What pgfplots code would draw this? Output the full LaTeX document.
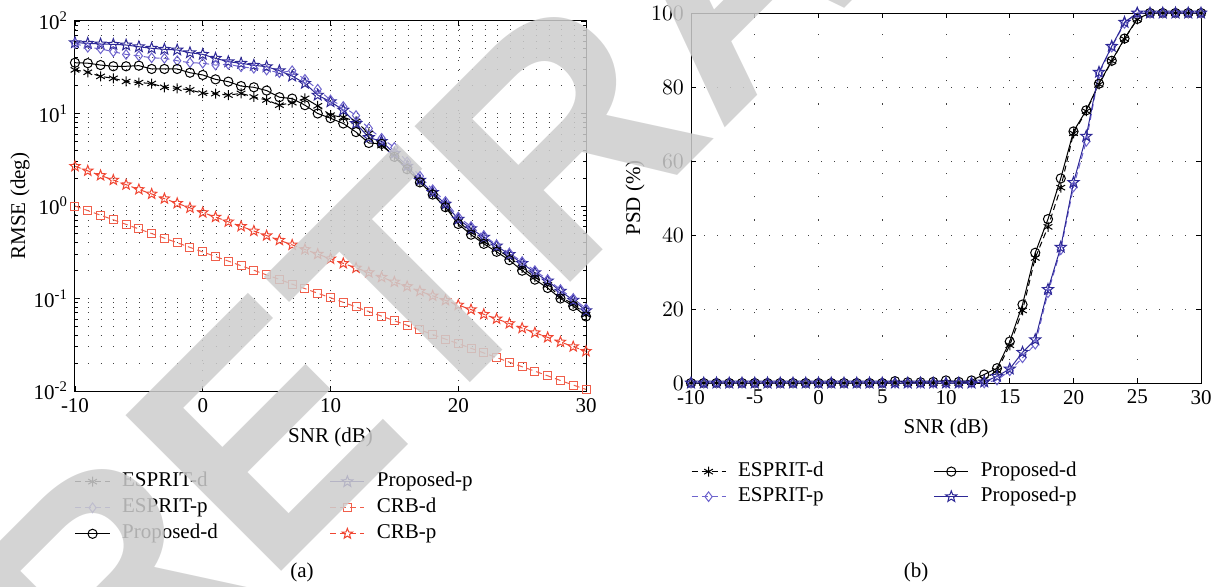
\documentclass[border=0pt]{standalone}
\usepackage{fontspec}
\setmainfont{Liberation Serif}
\newfontfamily\wmfont{Liberation Sans}
\usepackage{pgfplots}
\pgfplotsset{compat=1.18}
\usepackage{pgfplotstable}
\usetikzlibrary{plotmarks}

% five-pointed star like MATLAB's 'p' marker
\pgfdeclareplotmark{pentagram}{%
  \pgfpathmoveto{\pgfpointpolar{90}{\pgfplotmarksize}}%
  \pgfpathlineto{\pgfpointpolar{126}{0.42\pgfplotmarksize}}%
  \pgfpathlineto{\pgfpointpolar{162}{\pgfplotmarksize}}%
  \pgfpathlineto{\pgfpointpolar{198}{0.42\pgfplotmarksize}}%
  \pgfpathlineto{\pgfpointpolar{234}{\pgfplotmarksize}}%
  \pgfpathlineto{\pgfpointpolar{270}{0.42\pgfplotmarksize}}%
  \pgfpathlineto{\pgfpointpolar{306}{\pgfplotmarksize}}%
  \pgfpathlineto{\pgfpointpolar{342}{0.42\pgfplotmarksize}}%
  \pgfpathlineto{\pgfpointpolar{18}{\pgfplotmarksize}}%
  \pgfpathlineto{\pgfpointpolar{54}{0.42\pgfplotmarksize}}%
  \pgfpathclose\pgfusepathqstroke}

\definecolor{epcol}{RGB}{110,100,205}
\definecolor{ppcol}{RGB}{45,40,150}
\definecolor{crbd}{RGB}{240,95,75}
\definecolor{crbp}{RGB}{240,70,50}
\definecolor{wmgray}{RGB}{205,205,205}

% RMSE (deg) vs SNR
\pgfplotstableread{
x   ed    ep    pd    pp    cd     cp
-10 29.6  57.0  35.4  58.3  1.00   2.69
-9  27.9  52.0  35.0  57.4  0.892  2.40
-8  25.2  50.0  33.4  56.4  0.796  2.14
-7  24.0  46.5  32.4  55.9  0.710  1.91
-6  22.2  43.5  32.4  55.0  0.633  1.70
-5  21.6  42.0  32.9  52.7  0.565  1.51
-4  21.1  40.0  30.3  50.7  0.504  1.35
-3  19.2  39.5  30.3  49.4  0.449  1.20
-2  18.7  37.2  30.3  48.6  0.401  1.07
-1  18.0  35.4  27.6  45.4  0.357  0.955
0   16.6  35.0  26.1  43.6  0.319  0.851
1   16.4  33.4  23.4  39.5  0.284  0.759
2   15.8  34.0  22.1  36.3  0.254  0.676
3   16.5  32.0  19.8  34.9  0.226  0.603
4   15.1  30.8  19.2  33.2  0.202  0.537
5   14.0  29.5  17.7  32.1  0.180  0.479
6   12.3  27.6  15.0  29.0  0.161  0.427
7   13.1  29.0  14.5  25.4  0.143  0.380
8   14.6  23.4  12.3  21.2  0.128  0.339
9   12.1  18.3  10.0  15.8  0.114  0.302
10  9.6   14.0  8.9   13.4  0.102  0.269
11  9.1   11.9  7.8   10.9  0.0909 0.240
12  8.2   9.5   6.3   7.8   0.0811 0.214
13  6.1   6.9   4.8   5.5   0.0723 0.191
14  4.5   5.4   4.7   5.0   0.0645 0.170
15  3.5   4.3   3.4   3.7   0.0575 0.151
16  2.57  3.0   2.5   2.7   0.0513 0.135
17  1.83  2.1   1.8   1.9   0.0458 0.120
18  1.37  1.5   1.33  1.4   0.0408 0.107
19  1.0   1.12  0.97  1.05  0.0364 0.0955
20  0.68  0.76  0.64  0.72  0.0325 0.0851
21  0.52  0.6   0.49  0.57  0.0290 0.0759
22  0.41  0.48  0.39  0.46  0.0258 0.0676
23  0.34  0.38  0.32  0.37  0.0230 0.0603
24  0.28  0.31  0.26  0.30  0.0205 0.0537
25  0.215 0.25  0.2   0.24  0.0183 0.0479
26  0.17  0.2   0.16  0.19  0.0164 0.0427
27  0.14  0.16  0.13  0.155 0.0146 0.0380
28  0.104 0.125 0.1   0.12  0.0130 0.0339
29  0.087 0.1   0.083 0.096 0.0116 0.0302
30  0.067 0.078 0.064 0.074 0.0104 0.0269
}\rmse

% PSD (%) vs SNR
\pgfplotstableread{
x   ed    ep    pd    pp
-10 0     0     0     0
-9  0     0     0     0
-8  0     0     0     0
-7  0     0     0     0
-6  0     0     0     0
-5  0     0     0     0
-4  0     0     0     0
-3  0     0     0     0
-2  0     0     0     0
-1  0     0     0     0
0   0     0     0     0
1   0     0     0     0
2   0     0     0     0
3   0     0     0     0
4   0     0     0     0
5   0     0     0     0
6   0     0     0.5   0
7   0     0     0.2   0
8   0     0     0.2   0
9   0     0     0.3   0
10  0     0     0.7   0
11  0     0     0.3   0
12  0.2   0     0.7   0
13  1.0   0     2.3   0.3
14  3.3   0.8   4.0   1.8
15  10.2  3.3   11.2  3.8
16  19.6  6.8   21.2  8.3
17  33.8  10.5  35.2  11.7
18  42.2  24.4  44.3  25.3
19  52.8  36.0  55.3  36.7
20  67.5  53.0  68.0  54.2
21  73.5  65.3  73.7  66.7
22  80.7  83.6  80.9  84.0
23  87.0  90.8  87.1  91.0
24  93.0  97.2  93.1  97.5
25  98.3  100   98.4  100
26  100   100   100   100
27  100   100   100   100
28  100   100   100   100
29  100   100   100   100
30  100   100   100   100
}\psd

\pgfplotsset{
  matlab/.style={
    scale only axis, clip=false,
    tick align=inside, tick pos=both,
    major tick length=2.5pt, minor tick length=1.5pt,
    axis line style={line width=0.5pt},
    every tick/.style={black, line width=0.4pt},
    tick label style={font=\fontsize{10.5}{12}\selectfont},
    label style={font=\fontsize{10.5}{12}\selectfont},
    legend columns=2, legend cell align=left,
    legend style={draw=none, fill=none, inner sep=0pt, outer sep=0pt,
      font=\fontsize{10.5}{12}\selectfont, anchor=north west,
      nodes={inner sep=1pt, text height=1.6ex, text depth=0.5ex},
      /tikz/every odd column/.append style={column sep=5pt}},
    every axis plot/.append style={line width=0.5pt},
  },
  dsh/.style={dash pattern=on 3pt off 2pt},
}

\begin{document}
\begin{tikzpicture}
\path[use as bounding box] (0,0) rectangle (611.5pt,-293pt);

\begin{axis}[matlab,
  at={(37.5pt,-195.5pt)}, anchor=south west,
  width=255.5pt, height=185pt,
  ymode=log, xmin=-10, xmax=30, ymin=0.01, ymax=100,
  xtick={-10,0,10,20,30}, xticklabels={-10,0,10,20,30},
  ytick={0.01,0.1,1,10,100},
  yticklabels={10\textsuperscript{-2},10\textsuperscript{-1},10\textsuperscript{0},10\textsuperscript{1},10\textsuperscript{2}},
  minor ytick={0.02,0.03,0.04,0.05,0.06,0.07,0.08,0.09,0.2,0.3,0.4,0.5,0.6,0.7,0.8,0.9,2,3,4,5,6,7,8,9,20,30,40,50,60,70,80,90},
  xmajorgrids, ymajorgrids, yminorgrids,
  major x grid style={black!75, line width=0.5pt, dash pattern=on 0.5pt off 4.5pt},
  major y grid style={black!75, line width=0.5pt, dash pattern=on 0.5pt off 5.9pt},
  minor y grid style={black!75, line width=0.5pt, dash pattern=on 0.5pt off 5.9pt},
  xlabel={SNR (dB)}, ylabel={RMSE (deg)},
  xlabel style={at={(axis description cs:0.5,-0.1243)}, anchor=center},
  ylabel style={at={(axis description cs:-0.1076,0.5)}, anchor=center},
  legend style={at={(axis description cs:0,-0.2135)}, row sep=1.4pt,
    /tikz/every even column/.append style={column sep=55pt}},
]
\addplot[black, dsh, mark=asterisk, mark size=2.5pt, mark options={solid}] table[x=x, y=ed] {\rmse};
\addlegendentry{ESPRIT-d}
\addplot[ppcol, solid, mark=pentagram, mark size=2.9pt] table[x=x, y=pp] {\rmse};
\addlegendentry{Proposed-p}
\addplot[epcol, dsh, mark=diamond, mark size=2.4pt, mark options={solid}] table[x=x, y=ep] {\rmse};
\addlegendentry{ESPRIT-p}
\addplot[crbd, dsh, mark=square, mark size=2pt, mark options={solid}] table[x=x, y=cd] {\rmse};
\addlegendentry{CRB-d}
\addplot[black, solid, mark=o, mark size=2.3pt] table[x=x, y=pd] {\rmse};
\addlegendentry{Proposed-d}
\addplot[crbp, dsh, mark=pentagram, mark size=2.7pt, mark options={solid}] table[x=x, y=cp] {\rmse};
\addlegendentry{CRB-p}
\end{axis}

\begin{axis}[matlab,
  at={(345.5pt,-191.5pt)}, anchor=south west,
  width=255pt, height=185pt,
  xmin=-10, xmax=30, ymin=0, ymax=100,
  xtick={-10,-5,0,5,10,15,20,25,30}, xticklabels={-10,-5,0,5,10,15,20,25,30},
  ytick={0,20,40,60,80,100},
  xmajorgrids, ymajorgrids,
  major x grid style={black!75, line width=0.5pt, dash pattern=on 0.6pt off 11pt},
  major y grid style={black!75, line width=0.5pt, dash pattern=on 0.6pt off 5.9pt},
  xlabel={SNR (dB)}, ylabel={PSD (\%)},
  xlabel style={at={(axis description cs:0.5,-0.1216)}, anchor=center},
  ylabel style={at={(axis description cs:-0.1098,0.5)}, anchor=center},
  legend style={at={(axis description cs:0,-0.208)}, row sep=0.9pt,
    /tikz/every even column/.append style={column sep=54pt}},
]
\addplot[black, dsh, mark=asterisk, mark size=2.5pt, mark options={solid}] table[x=x, y=ed] {\psd};
\addlegendentry{ESPRIT-d}
\addplot[black, solid, mark=o, mark size=2.3pt] table[x=x, y=pd] {\psd};
\addlegendentry{Proposed-d}
\addplot[epcol, dsh, mark=diamond, mark size=2.4pt, mark options={solid}] table[x=x, y=ep] {\psd};
\addlegendentry{ESPRIT-p}
\addplot[ppcol, solid, mark=pentagram, mark size=2.9pt] table[x=x, y=pp] {\psd};
\addlegendentry{Proposed-p}
\end{axis}

\node[font=\fontsize{10.5}{12}\selectfont] at (151pt,-286pt) {(a)};
\node[font=\fontsize{10.5}{12}\selectfont] at (458pt,-286pt) {(b)};

% retraction watermark
\begin{scope}
\clip (0,0) rectangle (611.5pt,-293pt);
\node[rotate=45, anchor=base west, inner sep=0pt, text=wmgray, text opacity=0.85,
  font=\wmfont\bfseries\fontsize{160}{160}\selectfont] at (51.5pt,-375pt) {RETRACTED};
\end{scope}
\end{tikzpicture}
\end{document}
